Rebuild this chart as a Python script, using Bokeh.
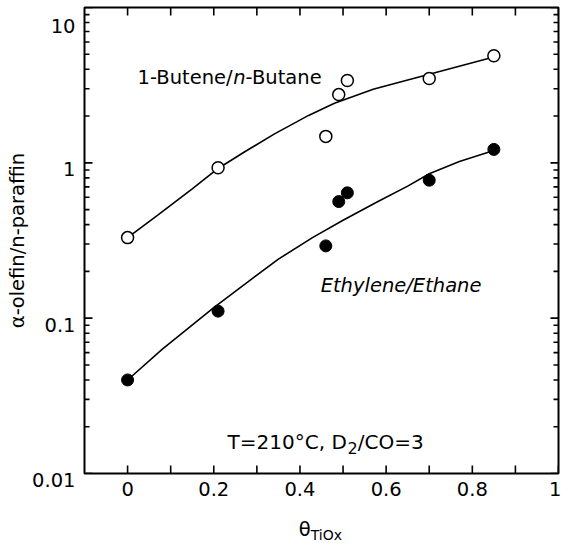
from bokeh.plotting import figure
from bokeh.layouts import column
from bokeh.models import Range1d, FixedTicker, Label
from bokeh.embed import file_html
from bokeh.resources import INLINE

# ---- data ----
theta = [0, 0.21, 0.46, 0.49, 0.51, 0.70, 0.85]
butene_ratio = [0.33, 0.93, 1.48, 2.75, 3.39, 3.49, 4.89]
ethylene_ratio = [0.040, 0.111, 0.292, 0.563, 0.641, 0.773, 1.22]

butene_fit_x = [0, 0.07, 0.15, 0.21, 0.27, 0.34, 0.42, 0.48, 0.57, 0.70, 0.85]
butene_fit_y = [0.33, 0.46, 0.68, 0.92, 1.17, 1.53, 2.02, 2.42, 2.98, 3.72, 4.8]
ethylene_fit_x = [0, 0.08, 0.20, 0.28, 0.35, 0.43, 0.50, 0.58, 0.65, 0.70, 0.77, 0.85]
ethylene_fit_y = [0.040, 0.063, 0.117, 0.172, 0.24, 0.331, 0.427, 0.562, 0.708, 0.851, 1.02, 1.20]

x_tick_values = [0, 0.2, 0.4, 0.6, 0.8, 1.0]
x_tick_labels = ["0", "0.2", "0.4", "0.6", "0.8", "1"]
x_minor_values = [0.1, 0.3, 0.5, 0.7, 0.9]
y_tick_values = [0.01, 0.1, 1, 10]
y_tick_labels = ["0.01", "0.1", "1", "10"]
y_minor_values = [m * 10.0 ** k for k in (-2, -1, 0) for m in range(2, 10)]

X_MIN, X_MAX = -0.1, 1.0
Y_MIN, Y_MAX = 0.01, 10

FONT = "DejaVu Sans"
FS = "19.5px"

# ---- geometry (pixels) ----
LEFT_B, RIGHT_B, TOP_B, BOT_B = 84, 3, 7, 36
FRAME_W, FRAME_H = 474, 466
PPD = FRAME_H / 3.0                       # pixels per decade
PPU = FRAME_W / (X_MAX - X_MIN)           # pixels per x unit
TICK_MAJ, TICK_MIN_Y = 8, 5


def label(fig, x, y, text, size=FS, style="normal", xo=0, yo=0,
          align="left", baseline="alphabetic"):
    fig.add_layout(Label(x=x, y=y, text=text, text_font=FONT, text_font_size=size,
                         text_font_style=style, text_color="black",
                         text_align=align, text_baseline=baseline,
                         x_offset=xo, y_offset=yo))


# ---------------- main plot ----------------
p = figure(width=LEFT_B + FRAME_W + RIGHT_B, height=TOP_B + FRAME_H + BOT_B,
           x_range=Range1d(X_MIN, X_MAX), y_range=Range1d(Y_MIN, Y_MAX),
           y_axis_type="log",
           output_backend="svg", toolbar_location=None,
           min_border_left=LEFT_B, min_border_right=RIGHT_B,
           min_border_top=TOP_B, min_border_bottom=BOT_B)
p.background_fill_color = "white"
p.border_fill_color = "white"
p.grid.visible = False
p.outline_line_color = "black"
p.outline_line_width = 2


def plain_axis(ax):
    ax.axis_line_color = None
    ax.major_tick_in = 0
    ax.major_tick_out = 0
    ax.minor_tick_in = 0
    ax.minor_tick_out = 0
    ax.major_label_text_font = FONT
    ax.major_label_text_font_size = FS
    ax.major_label_text_color = "black"


xa = p.xaxis[0]
xa.ticker = FixedTicker(ticks=x_tick_values, minor_ticks=[])
xa.major_label_overrides = dict(zip(x_tick_values, x_tick_labels))
plain_axis(xa)
xa.major_label_standoff = 8

ya = p.yaxis[0]
ya.ticker = FixedTicker(ticks=y_tick_values, minor_ticks=[])
# leading empty line drops each label to sit just below its tick, as in the reference
ya.major_label_overrides = {v: "\n" + t for v, t in zip(y_tick_values, y_tick_labels)}
plain_axis(ya)
ya.major_label_text_line_height = 0.62
ya.major_label_standoff = 9
ya.axis_label = "α-olefin/n-paraffin"
ya.axis_label_text_font = FONT
ya.axis_label_text_font_size = FS
ya.axis_label_text_font_style = "normal"
ya.axis_label_text_color = "black"
ya.axis_label_standoff = 0

# inward tick marks on all four sides (drawn through the plot's scales)
dy_maj = 10 ** (TICK_MAJ / PPD)
dx_maj = TICK_MAJ / PPU
dx_min = TICK_MIN_Y / PPU
x0s, y0s, x1s, y1s = [], [], [], []
for v in x_tick_values + x_minor_values:
    x0s += [v, v]
    y0s += [Y_MIN, Y_MAX]
    x1s += [v, v]
    y1s += [Y_MIN * dy_maj, Y_MAX / dy_maj]
for v in y_tick_values:
    x0s += [X_MIN, X_MAX]
    y0s += [v, v]
    x1s += [X_MIN + dx_maj, X_MAX - dx_maj]
    y1s += [v, v]
for v in y_minor_values:
    x0s += [X_MIN, X_MAX]
    y0s += [v, v]
    x1s += [X_MIN + dx_min, X_MAX - dx_min]
    y1s += [v, v]
p.segment(x0=x0s, y0=y0s, x1=x1s, y1=y1s, line_color="black", line_width=1.6)

# fit curves
p.line(butene_fit_x, butene_fit_y, line_color="black", line_width=1.6)
p.line(ethylene_fit_x, ethylene_fit_y, line_color="black", line_width=1.6)

# data points
p.scatter(theta, butene_ratio, marker="circle", size=12,
          fill_color="white", line_color="black", line_width=1.5)
p.scatter(theta, ethylene_ratio, marker="circle", size=12,
          fill_color="black", line_color="black", line_width=1)

# series labels
label(p, 0.023, 3.54, "1-Butene/")
label(p, 0.023, 3.54, "n", style="italic", xo=95.7)
label(p, 0.023, 3.54, "-Butane", xo=108.1)
label(p, 0.448, 0.162, "Ethylene/Ethane", style="italic")

# condition label
label(p, 0.232, 0.01584, "T=210°C, D", size="20px")
label(p, 0.232, 0.01584, "2", size="16px", xo=120.0, yo=-6)
label(p, 0.232, 0.01584, "/CO=3", size="20px", xo=130.2)

# ---------------- x title strip ----------------
pb = figure(width=LEFT_B + FRAME_W + RIGHT_B, height=35,
            x_range=p.x_range, y_range=Range1d(0, 35),
            x_axis_location=None, y_axis_location=None,
            output_backend="svg", toolbar_location=None,
            min_border_left=LEFT_B, min_border_right=RIGHT_B,
            min_border_top=0, min_border_bottom=0)
pb.outline_line_color = None
pb.background_fill_color = "white"
pb.border_fill_color = "white"
pb.grid.visible = False
label(pb, 0.397, 15, "θ")
label(pb, 0.397, 15, "TiOx", size="14px", xo=12.0, yo=-5)

layout = column(p, pb, spacing=0)
open("out.html", "w").write(file_html(layout, INLINE))
